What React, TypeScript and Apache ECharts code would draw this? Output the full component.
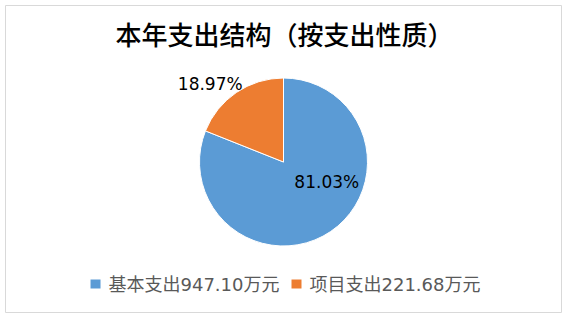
import React, { useEffect, useRef } from "react";
import * as echarts from "echarts";

const titleText = "本年支出结构（按支出性质）";
const categories = ["基本支出", "项目支出"];
const amounts = [947.1, 221.68];
const colors = ["#5B9BD5", "#ED7D31"];
const unit = "万元";

export default function App() {
  const ref = useRef<HTMLDivElement>(null);

  useEffect(() => {
    document.body.style.margin = "0";
    const chart = echarts.init(ref.current!, undefined, { renderer: "svg" });
    const labelOffsets: [number, number][] = [
      [18, -17],
      [-48, -41],
    ];
    chart.setOption({
      animation: false,
      backgroundColor: "#ffffff",
      title: {
        text: titleText,
        left: "center",
        top: 15,
        textStyle: {
          fontFamily: "Noto Sans CJK SC",
          fontSize: 26,
          fontWeight: 500,
          color: "#000000",
        },
      },
      legend: {
        bottom: 25,
        left: "center",
        icon: "rect",
        itemWidth: 12,
        itemHeight: 11,
        itemGap: 10,
        data: categories,
        formatter: (name: string) => {
          const i = categories.indexOf(name);
          return `${name}${amounts[i].toFixed(2)}${unit}`;
        },
        textStyle: {
          fontFamily: "DejaVu Sans, Noto Sans CJK SC",
          fontSize: 18,
          color: "#595959",
          padding: [0, 0, 0, 2],
        },
      },
      graphic: [
        {
          type: "rect",
          shape: { x: 5.5, y: 5.5, width: 556, height: 307 },
          style: { fill: "none", stroke: "#d9d9d9", lineWidth: 1 },
          silent: true,
        },
      ],
      series: [
        {
          type: "pie",
          center: [283.5, 162],
          radius: 84,
          startAngle: 90,
          clockwise: true,
          label: {
            show: true,
            position: "inside",
            formatter: "{d}%",
            fontFamily: "DejaVu Sans",
            fontSize: 17,
            color: "#000000",
          },
          labelLine: { show: false },
          itemStyle: { borderColor: "#ffffff", borderWidth: 1 },
          data: categories.map((name, i) => ({
            name,
            value: amounts[i],
            itemStyle: { color: colors[i] },
            label: { offset: labelOffsets[i] },
          })),
        },
      ],
    });
    return () => chart.dispose();
  }, []);

  return <div ref={ref} style={{ width: 569, height: 323 }} />;
}
